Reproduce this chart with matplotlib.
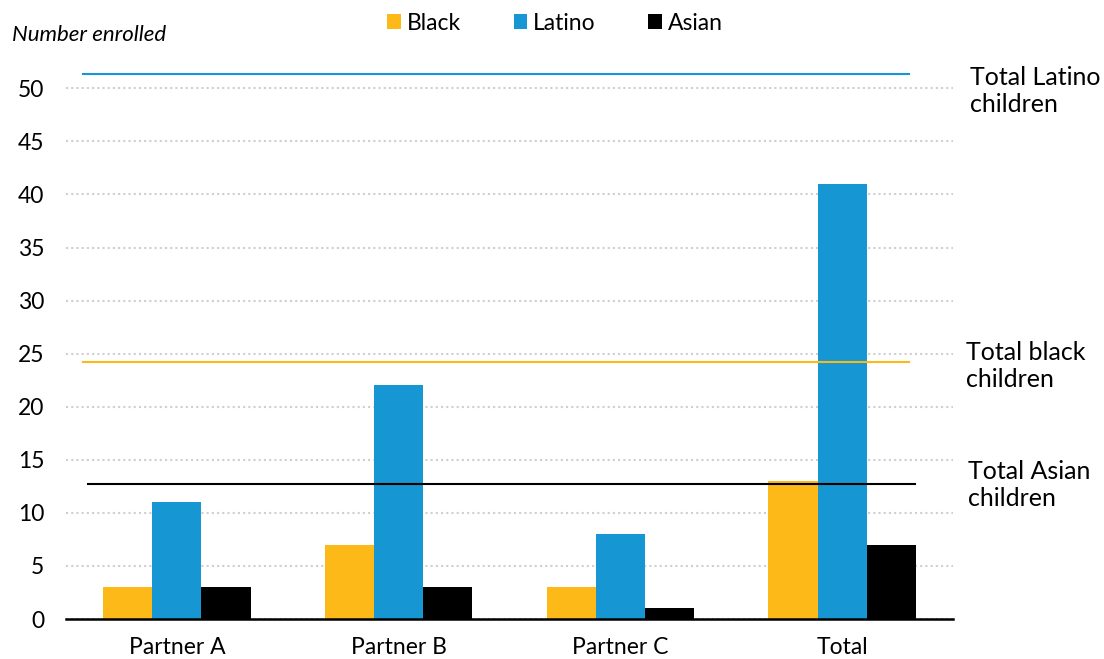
import matplotlib
matplotlib.use("Agg")
import matplotlib.pyplot as plt
import numpy as np
from matplotlib.patches import Patch

plt.rcParams["font.family"] = ["Lato", "DejaVu Sans"]

partners = ["Partner A", "Partner B", "Partner C", "Total"]
groups = ["Black", "Latino", "Asian"]
black = [3, 7, 3, 13]
latino = [11, 22, 8, 41]
asian = [3, 3, 1, 7]
totals = {"Latino": 51.35, "Black": 24.25, "Asian": 12.72}
total_labels = {"Latino": "Total Latino\nchildren", "Black": "Total black\nchildren", "Asian": "Total Asian\nchildren"}
yticks = [0, 5, 10, 15, 20, 25, 30, 35, 40, 45, 50]

colors = {"Black": "#fdb918", "Latino": "#1696d2", "Asian": "#000000"}

fig = plt.figure(figsize=(11.04, 6.59), dpi=100)
ax = fig.add_axes([66 / 1104, 1 - 619 / 659, (953 - 66) / 1104, (619 - 30) / 659])

x = np.arange(len(partners))
w = 0.222
for i, (name, vals) in enumerate(zip(groups, [black, latino, asian])):
    ax.bar(x + (i - 1) * w, vals, width=w, color=colors[name], zorder=2)

# reference lines for total children in each group
line_spans = {"Latino": (-0.425, 3.30), "Black": (-0.425, 3.30), "Asian": (-0.40, 3.33)}
for name in ["Latino", "Black", "Asian"]:
    x0, x1 = line_spans[name]
    ax.plot([x0, x1], [totals[name]] * 2, color=colors[name], lw=1.5, zorder=3)

# labels to the right of the plot, nudged off their lines
label_pos = {"Latino": (1.019, -1.6), "Black": (1.0147, -0.4), "Asian": (1.017, -0.1)}
for name in ["Latino", "Black", "Asian"]:
    lx, dy = label_pos[name]
    ax.text(lx, totals[name] + dy, total_labels[name], transform=ax.get_yaxis_transform(),
            fontsize=18, va="center", ha="left", linespacing=1.22, clip_on=False)

ax.set_xlim(-0.5, 3.5)
ax.set_ylim(0, (619 - 30) / 10.614)
ax.set_yticks(yticks)
ax.set_xticks(x, partners)
ax.tick_params(axis="both", length=0, labelsize=16.5)
ax.tick_params(axis="y", pad=15.5)
ax.tick_params(axis="x", pad=13)
ax.yaxis.grid(True, color="#cfcfcf", linestyle=(0, (1, 1.5)), lw=1.5, zorder=0)
for s in ["top", "right", "left"]:
    ax.spines[s].set_visible(False)
ax.spines["bottom"].set_linewidth(1.8)
ax.spines["bottom"].set_zorder(4)

fig.text(12 / 1104, 1 - 35 / 659, "Number enrolled", fontsize=16, style="italic", va="center", ha="left")

handles = [Patch(facecolor=colors[g], label=g) for g in groups]
fig.legend(handles=handles, loc="center", bbox_to_anchor=(555 / 1104, 1 - 23 / 659), ncol=3,
           frameon=False, fontsize=16.5, handlelength=0.6, handleheight=0.6, handletextpad=0.25,
           columnspacing=2.3)

fig.savefig("out.png", dpi=100)
